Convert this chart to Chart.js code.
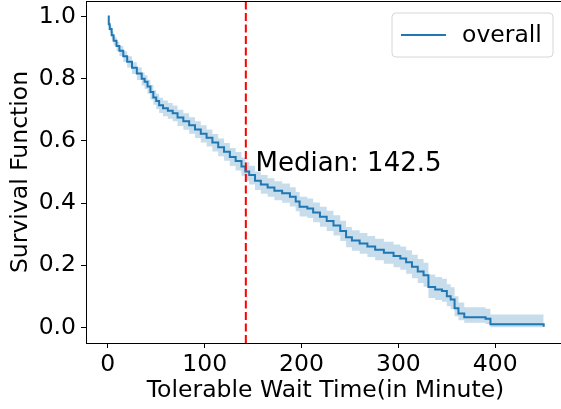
<!DOCTYPE html>
<html lang="en">
<head>
    <meta charset="UTF-8">
    <title>Survival Function</title>
    <script src="https://cdn.jsdelivr.net/npm/chart.js"></script>
    <style>
        html, body {
            margin: 0;
            padding: 0;
            background: #ffffff;
            overflow: hidden;
        }
        .chart-container {
            position: relative;
            width: 580px;
            height: 409px;
        }
    </style>
</head>
<body>
    <div class="chart-container">
        <canvas id="kmChart"></canvas>
    </div>

    <script>
        // Kaplan-Meier estimate
        const times = [0, 1, 2, 4, 6, 9, 12, 16, 20, 25, 30, 35, 38, 41, 44, 47, 50, 53, 57, 62, 67, 72, 78,
            84, 90, 96, 102, 108, 114, 120, 126, 132, 138, 142, 146, 152, 158, 165, 172, 180, 188, 194, 198,
            206, 212, 219, 226, 233, 240, 246, 252, 260, 268, 276, 285, 295, 302, 308, 314, 320, 326, 331, 338,
            345, 350, 354, 358, 362, 368, 390, 395, 449, 450];
        const survival = [1.0, 0.975, 0.96, 0.94, 0.922, 0.905, 0.89, 0.872, 0.855, 0.835, 0.817, 0.8, 0.79, 0.775, 0.757, 0.74, 0.728, 0.715, 0.705, 0.697, 0.689, 0.675, 0.663,
            0.65, 0.637, 0.623, 0.61, 0.595, 0.58, 0.565, 0.548, 0.535, 0.518, 0.502, 0.49, 0.472, 0.46, 0.45, 0.44, 0.432, 0.42, 0.405, 0.388,
            0.383, 0.37, 0.356, 0.342, 0.328, 0.31, 0.29, 0.28, 0.27, 0.26, 0.25, 0.24, 0.23, 0.222, 0.21, 0.195, 0.18, 0.168, 0.13, 0.122,
            0.117, 0.1, 0.09, 0.062, 0.045, 0.033, 0.028, 0.01, 0.01, 0.002];
        const ciLower = [1.0, 0.965, 0.948, 0.927, 0.907, 0.889, 0.873, 0.854, 0.836, 0.815, 0.796, 0.778, 0.767, 0.752, 0.733, 0.716, 0.703, 0.69, 0.679, 0.671, 0.663, 0.648, 0.636,
            0.623, 0.609, 0.595, 0.582, 0.566, 0.551, 0.536, 0.519, 0.505, 0.488, 0.472, 0.46, 0.442, 0.43, 0.42, 0.409, 0.401, 0.389, 0.374, 0.357,
            0.352, 0.338, 0.324, 0.31, 0.296, 0.278, 0.258, 0.247, 0.237, 0.227, 0.216, 0.205, 0.194, 0.186, 0.173, 0.158, 0.143, 0.131, 0.095, 0.088,
            0.083, 0.068, 0.059, 0.036, 0.023, 0.015, 0.011, 0.001, 0.001, 0.001];
        const ciUpper = [1.0, 0.983, 0.97, 0.952, 0.935, 0.919, 0.905, 0.888, 0.872, 0.853, 0.836, 0.82, 0.811, 0.797, 0.78, 0.763, 0.752, 0.739, 0.73, 0.722, 0.714, 0.7, 0.689,
            0.676, 0.663, 0.65, 0.637, 0.622, 0.608, 0.593, 0.577, 0.564, 0.547, 0.532, 0.52, 0.502, 0.49, 0.48, 0.47, 0.463, 0.451, 0.436, 0.42,
            0.415, 0.402, 0.388, 0.375, 0.361, 0.343, 0.323, 0.313, 0.304, 0.294, 0.285, 0.276, 0.267, 0.26, 0.248, 0.234, 0.22, 0.208, 0.17, 0.162,
            0.157, 0.139, 0.129, 0.1, 0.08, 0.065, 0.06, 0.042, 0.042, 0.042];

        const medianTime = 142.5;
        const xTicks = [0, 100, 200, 300, 400];
        const yTicks = [0.0, 0.2, 0.4, 0.6, 0.8, 1.0];

        const blue = '#1f77b4';
        const font = 'DejaVu Sans';
        const fontSize = 23.5;

        const toPoints = (ys) => times.map((t, i) => ({ x: t, y: ys[i] }));

        // top spine, median label and in-axes legend
        const extras = {
            id: 'extras',
            afterDraw(chart) {
                const { ctx, chartArea, scales } = chart;
                ctx.save();
                ctx.strokeStyle = '#000000';
                ctx.lineWidth = 1;
                ctx.beginPath();
                ctx.moveTo(chartArea.left, chartArea.top + 0.5);
                ctx.lineTo(chartArea.right, chartArea.top + 0.5);
                ctx.stroke();

                ctx.fillStyle = '#000000';
                ctx.font = '26px "' + font + '"';
                ctx.textBaseline = 'alphabetic';
                ctx.textAlign = 'left';
                ctx.fillText('Median: ' + medianTime, scales.x.getPixelForValue(medianTime + 10), scales.y.getPixelForValue(0.5) - 1);

                // legend box
                const bx = chartArea.right - 173, by = chartArea.top + 12, bw = 161, bh = 44, r = 4;
                ctx.beginPath();
                ctx.moveTo(bx + r, by);
                ctx.arcTo(bx + bw, by, bx + bw, by + bh, r);
                ctx.arcTo(bx + bw, by + bh, bx, by + bh, r);
                ctx.arcTo(bx, by + bh, bx, by, r);
                ctx.arcTo(bx, by, bx + bw, by, r);
                ctx.closePath();
                ctx.fillStyle = 'rgba(255,255,255,0.8)';
                ctx.fill();
                ctx.strokeStyle = '#d6d6d6';
                ctx.lineWidth = 1;
                ctx.stroke();

                ctx.strokeStyle = blue;
                ctx.lineWidth = 2;
                ctx.beginPath();
                ctx.moveTo(bx + 9, by + bh / 2);
                ctx.lineTo(bx + 54, by + bh / 2);
                ctx.stroke();
                ctx.fillStyle = '#000000';
                ctx.font = fontSize + 'px "' + font + '"';
                ctx.textBaseline = 'middle';
                ctx.fillText('overall', bx + 70, by + bh / 2 + 1);
                ctx.restore();
            }
        };

        new Chart(document.getElementById('kmChart'), {
            type: 'line',
            data: {
                datasets: [
                    {
                        label: 'overall',
                        data: toPoints(survival),
                        borderColor: blue,
                        borderWidth: 2,
                        pointRadius: 0,
                        stepped: 'before',
                        fill: false,
                        order: 1
                    },
                    {
                        label: 'lower',
                        data: toPoints(ciLower),
                        borderWidth: 0,
                        borderColor: 'rgba(0,0,0,0)',
                        pointRadius: 0,
                        stepped: 'before',
                        fill: false,
                        order: 3
                    },
                    {
                        label: 'upper',
                        data: toPoints(ciUpper),
                        borderWidth: 0,
                        borderColor: 'rgba(0,0,0,0)',
                        backgroundColor: 'rgba(31,119,180,0.25)',
                        pointRadius: 0,
                        stepped: 'before',
                        fill: 1,
                        order: 2
                    },
                    {
                        label: 'median',
                        data: [{ x: medianTime, y: -0.05 }, { x: medianTime, y: 1.05 }],
                        borderColor: '#ff0000',
                        borderWidth: 2,
                        borderDash: [8, 3.5],
                        pointRadius: 0,
                        fill: false,
                        order: 0
                    }
                ]
            },
            options: {
                responsive: true,
                maintainAspectRatio: false,
                animation: false,
                layout: { padding: { left: 0, right: 15, top: 1, bottom: 0 } },
                plugins: {
                    legend: { display: false },
                    tooltip: { enabled: false }
                },
                scales: {
                    x: {
                        type: 'linear',
                        min: -22.5,
                        max: 472,
                        afterBuildTicks: (s) => { s.ticks = xTicks.map(v => ({ value: v })); },
                        afterFit: (s) => { s.height = 66; s.paddingLeft = 0; s.paddingRight = 0; },
                        ticks: {
                            color: '#000000',
                            font: { family: font, size: fontSize },
                            padding: 3,
                            maxRotation: 0
                        },
                        grid: { drawOnChartArea: false, tickLength: 5, color: '#000000' },
                        border: { color: '#000000', width: 1 },
                        title: {
                            display: true,
                            text: 'Tolerable Wait Time(in Minute)',
                            color: '#000000',
                            font: { family: font, size: fontSize },
                            padding: { top: 0, bottom: 4 }
                        }
                    },
                    y: {
                        min: -0.05,
                        max: 1.05,
                        afterBuildTicks: (s) => { s.ticks = yTicks.map(v => ({ value: v })); },
                        afterFit: (s) => { s.width = 86; s.paddingTop = 0; s.paddingBottom = 0; },
                        ticks: {
                            color: '#000000',
                            font: { family: font, size: fontSize },
                            padding: 5,
                            callback: (v) => Number(v).toFixed(1)
                        },
                        grid: { drawOnChartArea: false, tickLength: 5, color: '#000000' },
                        border: { color: '#000000', width: 1 },
                        title: {
                            display: true,
                            text: 'Survival Function',
                            color: '#000000',
                            font: { family: font, size: fontSize },
                            padding: { top: 7, bottom: 0 }
                        }
                    }
                }
            },
            plugins: [extras]
        });
    </script>
</body>
</html>
